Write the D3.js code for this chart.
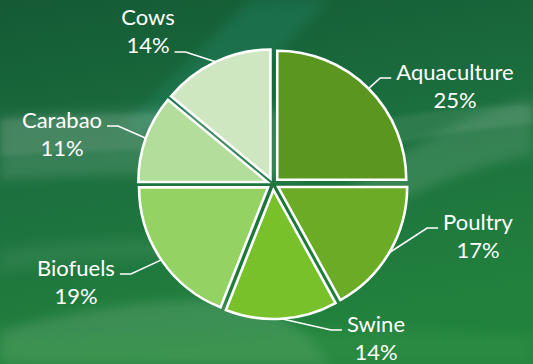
<!DOCTYPE html>
<html>
<head>
<meta charset="utf-8">
<script src="https://cdn.jsdelivr.net/npm/d3@7"></script>
<style>
  html, body { margin: 0; padding: 0; background: #1a6a3a; }
  svg { display: block; }
</style>
</head>
<body>
<svg id="chart" width="533" height="364"></svg>
<script>
// Share of use by sector
const categories = ["Aquaculture", "Poultry", "Swine", "Biofuels", "Carabao", "Cows"];
const shares = [25, 17, 14, 19, 11, 14];
const sliceColors = ["#5b961f", "#6bab25", "#78c12b", "#95d264", "#b3dd9b", "#cee7c1"];

// Label placement (text centre x, first-line baseline y, side of the leader line)
const labelLayout = [
  { x: 455, y: 80,  side: "right" },
  { x: 478, y: 230, side: "right" },
  { x: 376, y: 332, side: "right" },
  { x: 76,  y: 276, side: "left"  },
  { x: 62,  y: 128, side: "left"  },
  { x: 148, y: 25,  side: "left"  }
];

const W = 533, H = 364;
const cx = 273, cy = 184, R = 129, explode = 6;

const svg = d3.select("#chart");
const defs = svg.append("defs");

// ---- background -------------------------------------------------------
const bg = defs.append("linearGradient").attr("id", "bgGrad")
  .attr("x1", 0).attr("y1", 0).attr("x2", 0.25).attr("y2", 1);
bg.append("stop").attr("offset", 0).attr("stop-color", "#145a35");
bg.append("stop").attr("offset", 0.45).attr("stop-color", "#1b6e3e");
bg.append("stop").attr("offset", 1).attr("stop-color", "#22823d");

const blur = defs.append("filter").attr("id", "soft")
  .attr("x", -0.2).attr("y", -0.2).attr("width", 1.4).attr("height", 1.4);
blur.append("feGaussianBlur").attr("stdDeviation", 6);
const blurS = defs.append("filter").attr("id", "softS")
  .attr("x", -0.2).attr("y", -0.2).attr("width", 1.4).attr("height", 1.4);
blurS.append("feGaussianBlur").attr("stdDeviation", 2);

svg.append("rect").attr("width", W).attr("height", H).attr("fill", "url(#bgGrad)");

const streaks = svg.append("g");
// teal diagonal sheen across the top
streaks.append("path")
  .attr("d", "M120,130 L250,0 L330,0 L200,130 Z")
  .attr("fill", "#2aa08a").attr("opacity", 0.22).attr("filter", "url(#soft)");
// pale band on the left, middle height
streaks.append("path")
  .attr("d", "M0,116 C120,110 200,106 300,110 L300,178 C200,172 100,174 0,180 Z")
  .attr("fill", "#ffffff").attr("opacity", 0.12).attr("filter", "url(#soft)");
streaks.append("path")
  .attr("d", "M0,120 C80,114 160,112 240,114 L240,150 C160,148 80,150 0,156 Z")
  .attr("fill", "#ffffff").attr("opacity", 0.08).attr("filter", "url(#softS)");
// sweeping light waves on the right
streaks.append("path")
  .attr("d", "M330,205 C400,150 470,110 533,98 L533,155 C470,165 410,195 360,220 Z")
  .attr("fill", "#ffffff").attr("opacity", 0.11).attr("filter", "url(#soft)");
streaks.append("path")
  .attr("d", "M380,120 C430,110 490,104 533,106 L533,124 C490,127 430,135 390,146 Z")
  .attr("fill", "#ffffff").attr("opacity", 0.08).attr("filter", "url(#softS)");
// lighter wash along the bottom-left
streaks.append("path")
  .attr("d", "M0,364 L0,330 C60,315 130,300 200,300 C260,300 300,320 330,364 Z")
  .attr("fill", "#ffffff").attr("opacity", 0.12).attr("filter", "url(#soft)");
streaks.append("path")
  .attr("d", "M0,250 C60,240 120,238 170,240 L170,260 C120,258 60,262 0,272 Z")
  .attr("fill", "#ffffff").attr("opacity", 0.06).attr("filter", "url(#soft)");
// bottom band across the width
streaks.append("path")
  .attr("d", "M0,340 C150,330 350,328 533,335 L533,364 L0,364 Z")
  .attr("fill", "#3a9a4a").attr("opacity", 0.35).attr("filter", "url(#soft)");

// ---- pie --------------------------------------------------------------
const data = categories.map((c, i) => ({ name: c, value: shares[i], color: sliceColors[i], layout: labelLayout[i] }));

const pie = d3.pie().sort(null).value(d => d.value).startAngle(0).endAngle(2 * Math.PI);
const arc = d3.arc().innerRadius(0).outerRadius(R);
const arcs = pie(data);

const g = svg.append("g").attr("transform", `translate(${cx},${cy})`);

function midAngle(a) { return (a.startAngle + a.endAngle) / 2; }
function offset(a, dist) {
  const m = midAngle(a);
  return [dist * Math.sin(m), -dist * Math.cos(m)];
}

g.selectAll("path.slice")
  .data(arcs)
  .join("path")
  .attr("class", "slice")
  .attr("transform", d => { const o = offset(d, explode); return `translate(${o[0]},${o[1]})`; })
  .attr("d", arc)
  .attr("fill", d => d.data.color)
  .attr("stroke", "#ffffff")
  .attr("stroke-width", 2.6)
  .attr("stroke-linejoin", "miter");

// ---- leader lines and labels -----------------------------------------
const fontFamily = "Lato, 'Open Sans', sans-serif";
const fontSize = 22;
const lineGap = 28;

const labels = svg.append("g");

arcs.forEach(a => {
  const L = a.data.layout;
  const m = midAngle(a);
  const o = offset(a, explode);
  // point on the outer rim at the slice's mid angle
  const ax = cx + o[0] + R * Math.sin(m);
  const ay = cy + o[1] - R * Math.cos(m);

  const t = labels.append("text")
    .attr("x", L.x).attr("y", L.y)
    .attr("text-anchor", "middle")
    .attr("font-family", fontFamily)
    .attr("font-size", fontSize)
    .attr("fill", "#ffffff");
  t.append("tspan").attr("x", L.x).attr("dy", 0).text(a.data.name);
  t.append("tspan").attr("x", L.x).attr("dy", lineGap).text(d3.format("d")(a.data.value) + "%");

  // leader attaches beside the text line whose edge faces the slice
  const firstW = t.select("tspan").node().getComputedTextLength();
  const secondW = t.selectAll("tspan").nodes()[1].getComputedTextLength();
  let ly, lw;
  if (a.data.name === "Cows") { ly = L.y + lineGap - 1; lw = secondW; }
  else { ly = L.y - 2; lw = firstW; }
  const dir = L.side === "right" ? -1 : 1;   // which way the line leaves the text
  const endX = L.x + dir * (lw / 2 + 5);
  const elbowX = endX + dir * 11;

  labels.insert("path", "text")
    .attr("d", d3.line()([[ax, ay], [elbowX, ly], [endX, ly]]))
    .attr("fill", "none")
    .attr("stroke", "#ffffff")
    .attr("stroke-width", 1.6);
});
</script>
</body>
</html>
